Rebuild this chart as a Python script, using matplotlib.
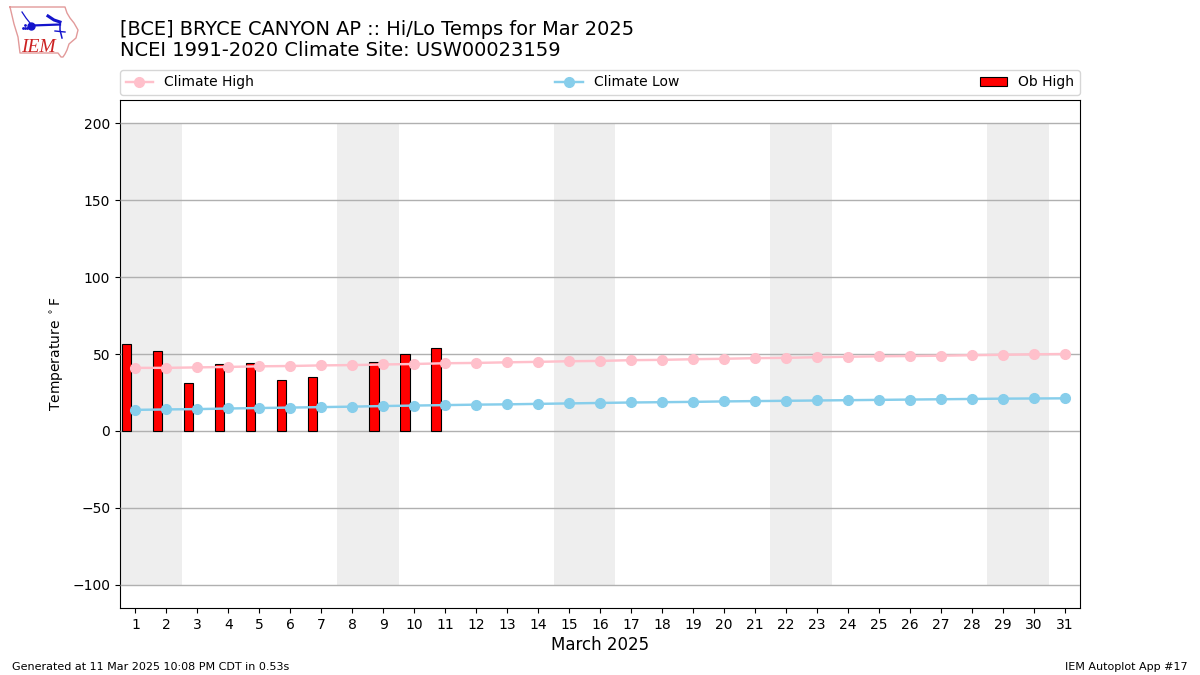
import matplotlib
matplotlib.use("Agg")
import matplotlib.pyplot as plt

days = list(range(1, 32))
ob_days = [1, 2, 3, 4, 5, 6, 7, 9, 10, 11]
ob_high = [56.5, 52, 31, 43.5, 44, 33, 35, 45, 50, 54]
climate_high = [41, 41, 41.3, 41.6, 42, 42.2, 42.6, 42.8, 43.2, 43.5, 44, 44.2, 44.6, 44.9, 45.3, 45.5,
                46, 46.2, 46.6, 46.9, 47.3, 47.5, 47.9, 48.2, 48.5, 48.7, 48.9, 49.2, 49.5, 49.8, 50]
climate_low = [13.7, 14, 14.2, 14.6, 14.9, 15.2, 15.5, 15.8, 16.2, 16.5, 16.8, 17.1, 17.3, 17.6, 17.9, 18.2,
               18.5, 18.7, 18.9, 19.2, 19.4, 19.6, 19.8, 20, 20.2, 20.4, 20.6, 20.8, 21, 21.1, 21.2]
weekend_centers = [1.5, 8.5, 15.5, 22.5, 29.5]

W, H = 1200, 675
fig = plt.figure(figsize=(W / 100, H / 100), dpi=100)
ax = fig.add_axes([120 / W, 1 - 608 / H, 960 / W, 508 / H])

ax.bar(weekend_centers, [300] * 5, bottom=-100, width=2, color="#eeeeee", zorder=1)
ax.grid(axis="y", color="#b0b0b0", linewidth=1)
ax.set_axisbelow(False)
ax.bar([d - 0.295 for d in ob_days], ob_high, width=0.3, color="red", edgecolor="black",
       linewidth=0.8, zorder=3, label="Ob High")
ax.plot(days, climate_high, color="pink", marker="o", markersize=7, linewidth=1.75, zorder=4, label="Climate High")
ax.plot(days, climate_low, color="skyblue", marker="o", markersize=7, linewidth=1.75, zorder=4, label="Climate Low")

ax.set_xlim(0.5, 31.5)
ax.set_ylim(-115, 215)
ax.set_xticks(days)
ax.set_yticks([-100, -50, 0, 50, 100, 150, 200])
ax.tick_params(labelsize=10)
ax.set_xlabel("March 2025", fontsize=12, labelpad=3)
ax.set_ylabel(r"Temperature $^\circ$F", fontsize=10, labelpad=4.5)

ax.legend(loc="lower left", bbox_to_anchor=(0, 1.01, 1, 0.05), mode="expand", ncol=3,
          borderaxespad=0, fontsize=10)

fig.text(120 / W, 1 - 35 / H, "[BCE] BRYCE CANYON AP :: Hi/Lo Temps for Mar 2025", fontsize=13.97, va="baseline")
fig.text(120 / W, 1 - 56.5 / H, "NCEI 1991-2020 Climate Site: USW00023159", fontsize=14, va="baseline")
fig.text(12 / W, 1 - 669.5 / H, "Generated at 11 Mar 2025 10:08 PM CDT in 0.53s", fontsize=8, va="baseline")
fig.text(1188 / W, 1 - 669.5 / H, "IEM Autoplot App #17", fontsize=8, ha="right", va="baseline")

# Small Iowa-shaped logo, drawn in pixel coordinates
logo = fig.add_axes([0, 1 - 70 / H, 130 / W, 70 / H])
logo.set_xlim(0, 130)
logo.set_ylim(70, 0)
logo.axis("off")
outline_x = [10, 65, 67, 70, 74, 78, 76, 69, 67, 65, 63, 61, 58, 20, 18, 14, 10]
outline_y = [7, 7, 13, 18, 23, 30, 38, 44, 50, 54, 57, 57, 53, 53, 37, 24, 7]
logo.plot(outline_x, outline_y, color="#e29a9a", linewidth=1)
logo.plot([32, 60], [25.5, 24.5], color="#1414cc", linewidth=1.6)
logo.plot([31], [26], "o", color="#1414cc", markersize=5)
logo.plot([48, 54, 60], [16, 20, 22], color="#1414cc", linewidth=2.2)
logo.plot([60, 60, 62], [22, 30, 38], color="#1414cc", linewidth=1.1)
logo.plot([55, 65], [31, 32], color="#1414cc", linewidth=1)
logo.plot([30, 26, 22], [23, 18, 12], color="#1414cc", linewidth=0.9)
logo.plot([23, 25, 27, 25], [28, 28, 28, 25], ".", color="#1414cc", markersize=2)
logo.text(21, 52, "IEM", family="Liberation Serif", style="italic", color="#cc2222", fontsize=14, va="baseline")

fig.savefig("out.png", dpi=100)
